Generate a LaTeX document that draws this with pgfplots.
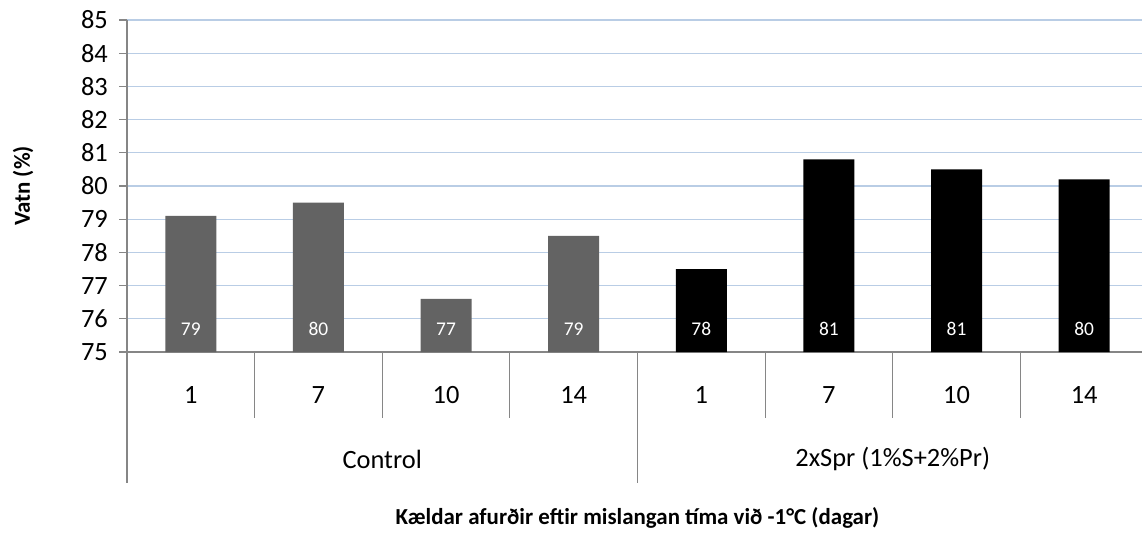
\documentclass[border=0pt]{standalone}
\usepackage{pgfplots}
\pgfplotsset{compat=1.18}
\usepackage{fontspec}
\setmainfont{Carlito}
\definecolor{gridblue}{HTML}{B9CDE5}
\definecolor{axisgray}{HTML}{868686}
\definecolor{ctrlgray}{HTML}{636363}
\begin{document}
\begin{tikzpicture}
\begin{axis}[
  scale only axis, width=1021bp, height=332bp,
  xmin=-0.5, xmax=7.5, ymin=75, ymax=85,
  axis lines*=left,
  axis line style={axisgray, line width=1.2bp},
  ytick={75,...,85},
  ymajorgrids, major grid style={gridblue, line width=1.1bp},
  tick align=outside, major tick length=7.7bp,
  major x tick style={draw=none},
  y tick style={axisgray, line width=1.2bp},
  xtick={0,...,7}, xticklabels={1,7,10,14,1,7,10,14},
  tick label style={font=\fontsize{26.5}{26.5}\selectfont},
  xticklabel style={anchor=center, yshift=-35bp},
  yticklabel style={anchor=east, xshift=-8bp},
  /pgf/number format/assume math mode=true,
  clip=false,
]
\addplot[ybar, bar width=51bp, bar shift=0pt, fill=ctrlgray, draw=none]
  coordinates {(0,79.1) (1,79.5) (2,76.6) (3,78.5)};
\addplot[ybar, bar width=51bp, bar shift=0pt, fill=black, draw=none]
  coordinates {(4,77.5) (5,80.8) (6,80.5) (7,80.2)};
\addplot[draw=none, mark=none, nodes near coords, point meta=explicit symbolic,
  nodes near coords style={text=white, font=\fontsize{19.5}{19.5}\selectfont, anchor=center}]
  coordinates {(0,75.69)[79] (1,75.69)[80] (2,75.69)[77] (3,75.69)[79]
               (4,75.69)[78] (5,75.69)[81] (6,75.69)[81] (7,75.69)[80]};
\pgfplotsinvokeforeach{0.5,1.5,2.5,4.5,5.5,6.5}{
  \draw[axisgray, line width=1.2bp] (axis cs:#1,75) -- ([yshift=-66bp]axis cs:#1,75);
}
\pgfplotsinvokeforeach{-0.5,3.5,7.5}{
  \draw[axisgray, line width=1.2bp] (axis cs:#1,75) -- ([yshift=-131bp]axis cs:#1,75);
}
\node[font=\fontsize{26.5}{26.5}\selectfont] at ([yshift=-107bp]axis cs:1.5,75) {Control};
\node[font=\fontsize{26.5}{26.5}\selectfont] at ([yshift=-107bp]axis cs:5.5,75) {2xSpr (1\%S+2\%Pr)};
\node[font=\bfseries\fontsize{23}{23}\selectfont] at ([yshift=-166bp]axis cs:3.5,75) {Kældar afurðir eftir mislangan tíma við -1°C (dagar)};
\node[font=\bfseries\fontsize{23}{23}\selectfont, rotate=90] at ([xshift=-104bp]axis cs:-0.5,80) {Vatn (\%)};
\end{axis}
\pgfresetboundingbox
\path[use as bounding box] (-127bp,-193bp) rectangle (1015bp,352bp);
\end{tikzpicture}
\end{document}
